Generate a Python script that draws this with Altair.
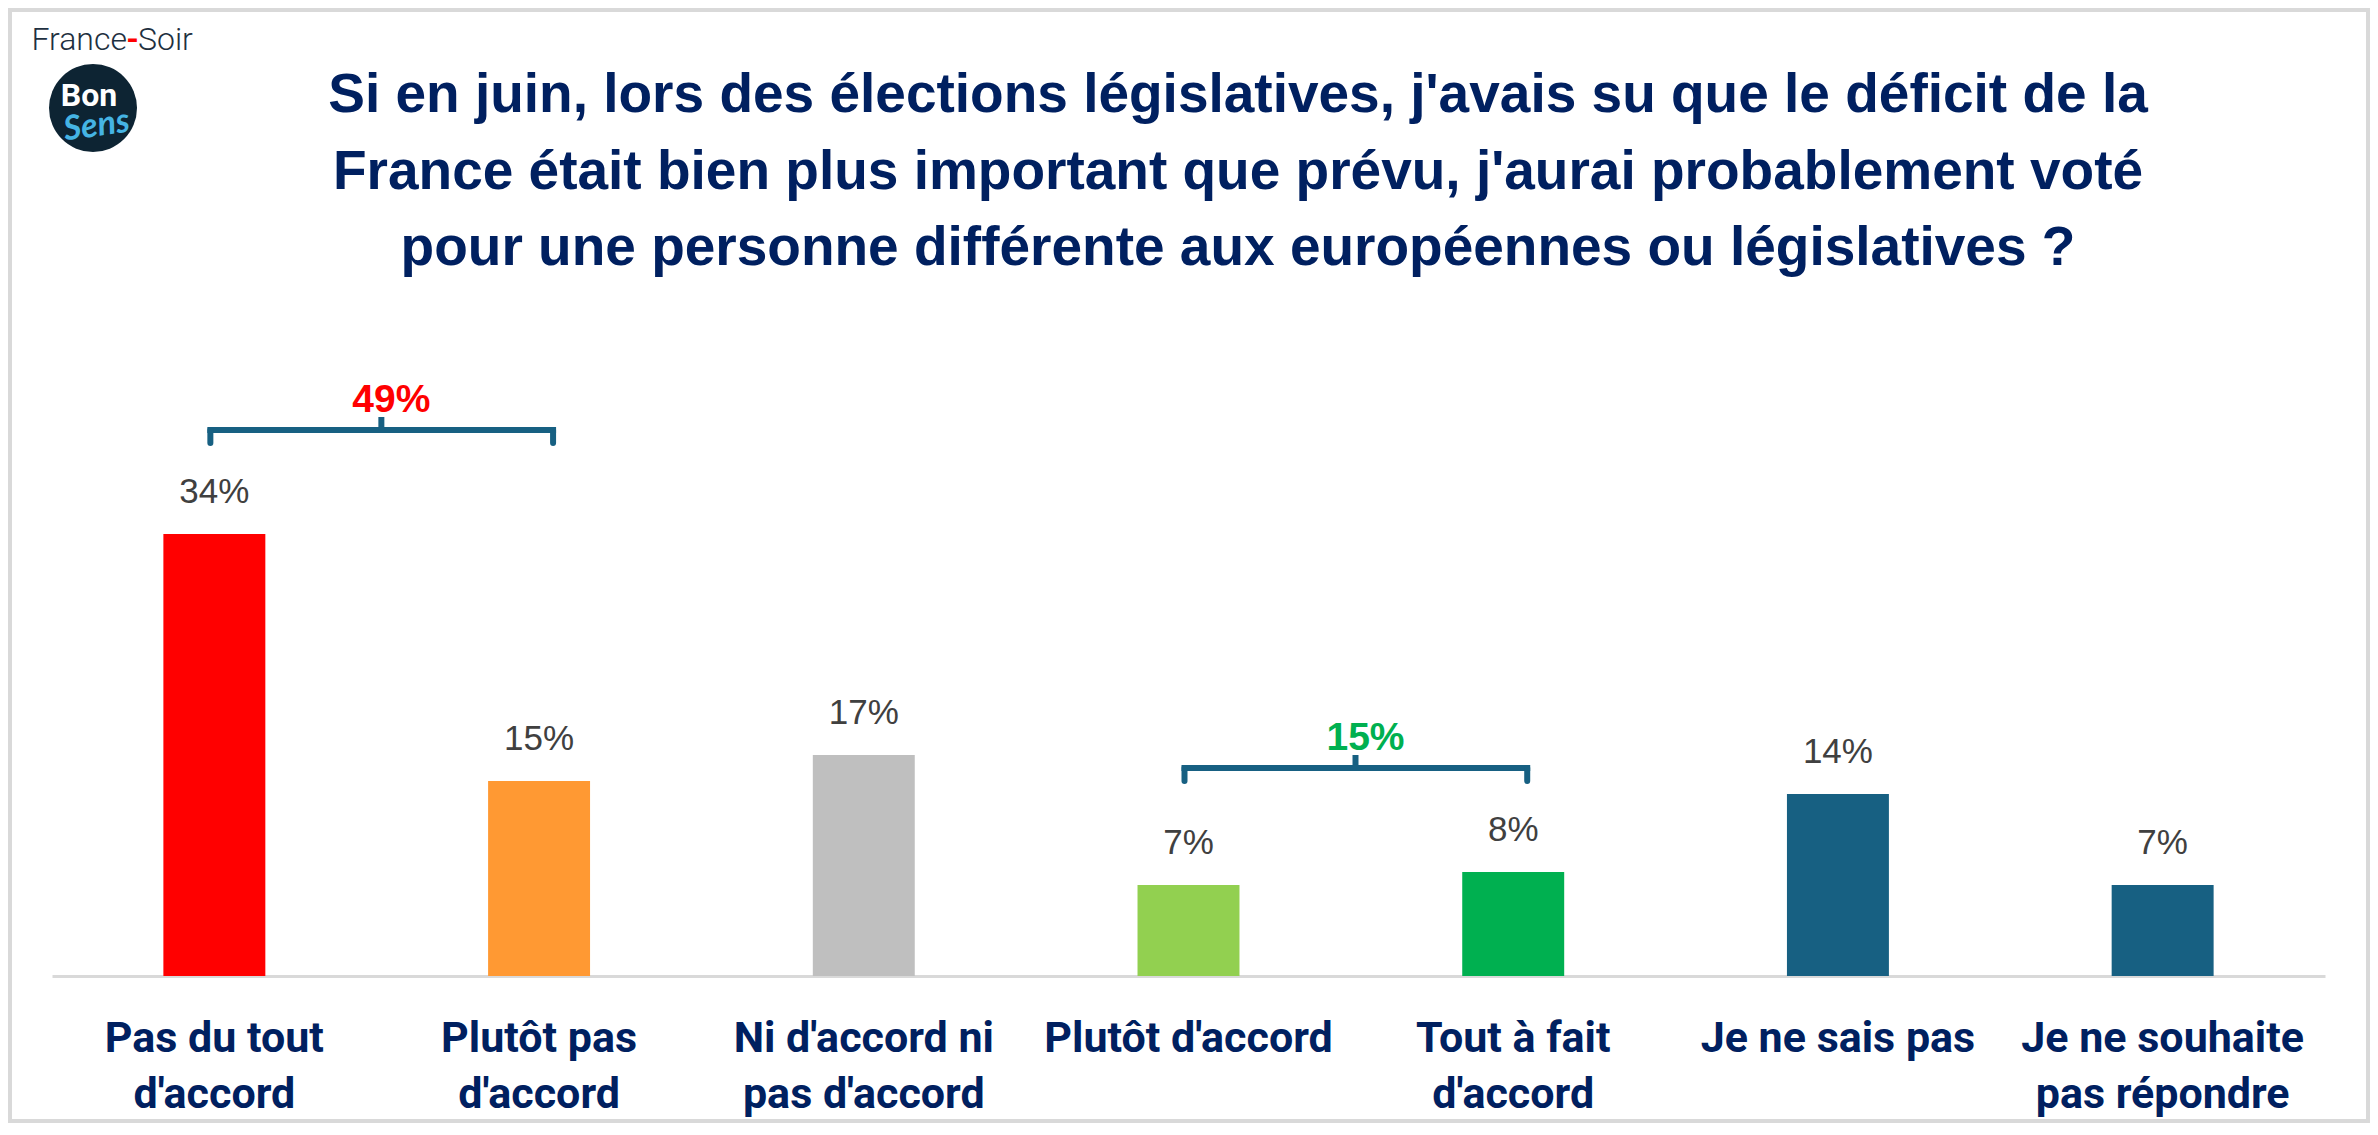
import altair as alt
import pandas as pd

# ---- data ----
categories = [
    "Pas du tout\nd'accord",
    "Plutôt pas\nd'accord",
    "Ni d'accord ni\npas d'accord",
    "Plutôt d'accord",
    "Tout à fait\nd'accord",
    "Je ne sais pas",
    "Je ne souhaite\npas répondre",
]
values = [34, 15, 17, 7, 8, 14, 7]
bar_colors = ["#FF0000", "#FF9933", "#BFBFBF", "#92D050", "#00B050", "#176082", "#176082"]

group_first = [0, 3]
group_last = [1, 4]
group_colors = ["#FF0000", "#00B050"]

title_lines = [
    "Si en juin, lors des élections législatives, j'avais su que le déficit de la",
    "France était bien plus important que prévu, j'aurai probablement voté",
    "pour une personne différente aux européennes ou législatives ?",
]

NAVY = "#002060"
BRACKET = "#176082"

bars_df = pd.DataFrame({
    "cat": categories,
    "value": values,
    "color": bar_colors,
    "label": [f"{v}%" for v in values],
})

grp_rows = []
for a, b, c in zip(group_first, group_last, group_colors):
    parts = values[a:b + 1]
    top = max(parts) + 8
    grp_rows.append({
        "left": categories[a],
        "right": categories[b],
        "y": top,
        "ydown": top - 1,
        "yup": top + 1,
        "ylab": top + 1.35,
        "label": f"{sum(parts)}%",
        "color": c,
    })
grp_df = pd.DataFrame(grp_rows)

x_scale = alt.Scale(domain=categories, paddingInner=0.686, paddingOuter=0.343)
y_scale = alt.Scale(domain=[0, 60])

x_axis = alt.Axis(
    title=None,
    labelExpr="split(datum.label, '\\n')",
    labelFont="Roboto",
    labelFontWeight="bold",
    labelFontSize=43,
    labelColor=NAVY,
    labelLineHeight=56,
    labelBaseline="alphabetic",
    labelPadding=75,
    labelAngle=0,
    labelLimit=0,
    ticks=False,
    tickSize=0,
    domainColor="#D9D9D9",
    domainWidth=3,
    grid=False,
)

base = alt.Chart(bars_df)

bars = base.mark_bar().encode(
    x=alt.X("cat:N", sort=categories, scale=x_scale, axis=x_axis),
    y=alt.Y("value:Q", scale=y_scale, axis=None),
    color=alt.Color("color:N", scale=None),
)

vlabels = base.mark_text(
    font="Liberation Sans", fontSize=35, color="#404040",
    baseline="alphabetic", align="center", dy=-31,
).encode(
    x=alt.X("cat:N", sort=categories, scale=x_scale),
    y=alt.Y("value:Q", scale=y_scale),
    text="label:N",
)

gbase = alt.Chart(grp_df)
hrule = gbase.mark_rule(strokeWidth=6, color=BRACKET, strokeCap="square", xOffset=-4, x2Offset=14).encode(
    x=alt.X("left:N", scale=x_scale), x2="right:N", y=alt.Y("y:Q", scale=y_scale)
)
ltick = gbase.mark_rule(strokeWidth=6, color=BRACKET, strokeCap="round", xOffset=-4).encode(
    x=alt.X("left:N", scale=x_scale), y=alt.Y("y:Q", scale=y_scale), y2="ydown:Q"
)
rtick = gbase.mark_rule(strokeWidth=6, color=BRACKET, strokeCap="round", xOffset=14).encode(
    x=alt.X("right:N", scale=x_scale), y=alt.Y("y:Q", scale=y_scale), y2="ydown:Q"
)
ctick = gbase.mark_rule(strokeWidth=6, color=BRACKET, strokeCap="butt", xOffset=167).encode(
    x=alt.X("left:N", scale=x_scale), y=alt.Y("y:Q", scale=y_scale), y2="yup:Q"
)
glabel = gbase.mark_text(
    font="Liberation Sans", fontWeight="bold", fontSize=39,
    baseline="alphabetic", align="center", xOffset=177,
).encode(
    x=alt.X("left:N", scale=x_scale), y=alt.Y("ylab:Q", scale=y_scale),
    text="label:N", color=alt.Color("color:N", scale=None),
)

one = alt.Data(values=[{"k": 1}])

title = alt.Chart(one).mark_text(
    text=title_lines, font="Liberation Sans", fontWeight="bold", fontSize=55,
    color=NAVY, align="center", baseline="alphabetic", lineHeight=76.5,
).encode(x=alt.value(1186), y=alt.value(-84))

logo_circle = alt.Chart(one).mark_point(
    shape="circle", filled=True, size=7744, color="#0D2433", opacity=1
).encode(x=alt.value(41), y=alt.value(-88))
logo_bon = alt.Chart(one).mark_text(
    text="Bon", font="Roboto", fontWeight="bold", fontSize=32, color="white",
    align="center", baseline="alphabetic",
).encode(x=alt.value(37), y=alt.value(-90))
logo_sens = alt.Chart(one).mark_text(
    text="Sens", font="Lato", fontWeight="bold", fontStyle="italic", fontSize=34,
    color="#45B4E4", align="center", baseline="alphabetic", angle=352,
).encode(x=alt.value(46), y=alt.value(-60))
fs1 = alt.Chart(one).mark_text(
    text="France", font="Roboto", fontWeight=300, fontSize=32, color="#1E3040",
    align="right", baseline="alphabetic",
).encode(x=alt.value(75), y=alt.value(-146))
fs2 = alt.Chart(one).mark_text(
    text="-", font="Roboto", fontWeight="bold", fontSize=32, color="#FF0000",
    align="center", baseline="alphabetic",
).encode(x=alt.value(80.5), y=alt.value(-146))
fs3 = alt.Chart(one).mark_text(
    text="Soir", font="Roboto", fontWeight=300, fontSize=32, color="#1E3040",
    align="left", baseline="alphabetic",
).encode(x=alt.value(86), y=alt.value(-146))

frame = alt.Chart(one).mark_rect(
    fillOpacity=0, stroke="#D9D9D9", strokeWidth=4
).encode(x=alt.value(-42), x2=alt.value(2316), y=alt.value(-186), y2=alt.value(925))

chart = alt.layer(
    frame, bars, vlabels, hrule, ltick, rtick, ctick, glabel,
    title, logo_circle, logo_bon, logo_sens, fs1, fs2, fs3,
).properties(
    width=2273,
    height=780,
    padding={"left": 44, "top": 188, "right": 45, "bottom": 147},
    autosize=alt.AutoSizeParams(type="none"),
    background="white",
).configure_view(stroke=None)

chart.save("out.html", embed_options={"renderer": "svg", "actions": False})
